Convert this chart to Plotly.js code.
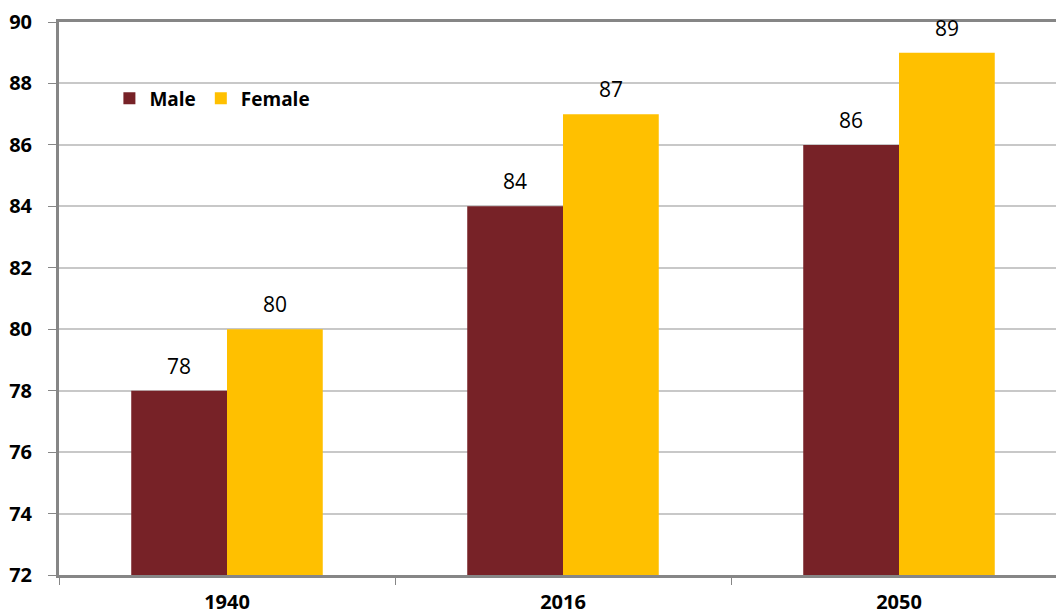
<!DOCTYPE html>
<html>
<head>
<meta charset="utf-8">
<script src="https://cdn.plot.ly/plotly-3.0.1.min.js"></script>
<style>
  html, body { margin: 0; padding: 0; background: #fff; overflow: hidden; width: 1056px; height: 616px; }
  #chart { width: 1067px; height: 616px; }
</style>
</head>
<body>
<div id="chart"></div>
<script>
// Life expectancy by year and sex
const years = ['1940', '2016', '2050'];
const male = [78, 84, 86];
const female = [80, 87, 89];
const seriesNames = ['Male', 'Female'];
const seriesColors = ['#772227', '#FFC000'];
const yTicks = [72, 74, 76, 78, 80, 82, 84, 86, 88, 90];

const fontFamily = '"Open Sans", "Noto Sans", sans-serif';
const labelFont = { family: fontFamily, size: 21, color: '#000' };
const tickFont = { family: fontFamily, size: 20, color: '#000', weight: 'bold' };

const traces = [male, female].map((vals, i) => ({
  type: 'bar',
  name: seriesNames[i],
  x: years,
  y: vals.map(v => v - 72),
  base: 72,
  marker: { color: seriesColors[i], line: { width: 0 } },
  hoverinfo: 'skip'
}));

// Value labels above each bar (x given as category index)
const annotations = [];
[male, female].forEach((vals, i) => {
  vals.forEach((v, j) => {
    annotations.push({
      x: j, y: v, xref: 'x', yref: 'y',
      text: String(v), showarrow: false,
      xshift: (i === 0 ? -1 : 1) * 48,
      yshift: 25,
      font: labelFont
    });
  });
});

const layout = {
  width: 1067, height: 616,
  margin: { l: 59, r: 0, t: 22, b: 41 },
  paper_bgcolor: '#fff', plot_bgcolor: '#fff',
  barmode: 'group',
  bargap: 0.43,
  bargroupgap: 0,
  showlegend: true,
  legend: {
    orientation: 'h', x: 0.050, y: 0.862, xanchor: 'left', yanchor: 'middle',
    font: { family: fontFamily, size: 19, color: '#000', weight: 'bold' },
    traceorder: 'normal', bgcolor: 'rgba(0,0,0,0)', itemwidth: 30
  },
  xaxis: {
    type: 'category',
    categoryorder: 'array', categoryarray: years,
    range: [-0.5, 2.5], autorange: false,
    showline: true, linecolor: '#868686', linewidth: 3, mirror: true,
    ticks: 'outside', ticklen: 7, tickcolor: '#868686', tickwidth: 1,
    tickson: 'boundaries',
    tickfont: tickFont,
    ticklabelstandoff: 7,
    showgrid: false,
    fixedrange: true
  },
  yaxis: {
    range: [72, 90], autorange: false,
    tickvals: yTicks,
    ticktext: yTicks.map(String),
    showline: true, linecolor: '#868686', linewidth: 3,
    ticks: 'outside', ticklen: 8, tickcolor: '#868686', tickwidth: 1,
    tickfont: tickFont,
    ticklabelstandoff: 12,
    showgrid: true, gridcolor: '#c8c8c8', gridwidth: 2,
    zeroline: false,
    fixedrange: true
  },
  annotations: annotations
};

Plotly.newPlot('chart', traces, layout, { displayModeBar: false, staticPlot: true });
</script>
</body>
</html>
